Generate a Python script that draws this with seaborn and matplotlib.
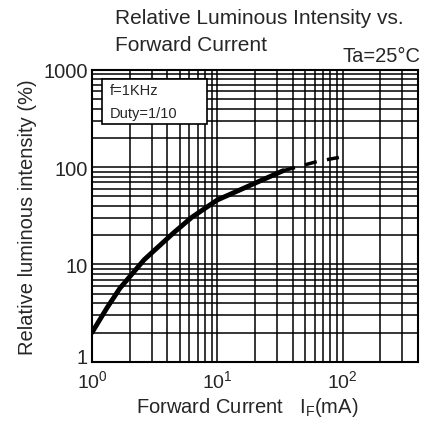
import matplotlib
matplotlib.use("Agg")
import matplotlib.pyplot as plt
from matplotlib.ticker import NullFormatter
from matplotlib.patches import Rectangle
import matplotlib.transforms as mtransforms
import pandas as pd
import seaborn as sns

# measured curve (solid part) and extrapolated part (dashed)
current_solid = [1, 1.32, 1.67, 2.61, 4.45, 6.25, 10, 22.9, 33.6]
intensity_solid = [2.0, 3.6, 5.7, 11.2, 21, 30.5, 46, 74, 92]
current_dash = [33.6, 63.8, 100]
intensity_dash = [92, 115, 128]

x_ticks = [1, 10, 100]
x_ticklabels = [r"$\mathregular{10^0}$", r"$\mathregular{10^1}$", r"$\mathregular{10^2}$"]
y_ticks = [1, 10, 100, 1000]
y_ticklabels = ["1", "10", "100", "1000"]

sns.set_theme(style="white")
plt.rcParams["font.family"] = ["Liberation Sans", "DejaVu Sans"]

fig = plt.figure(figsize=(4.26, 4.35), dpi=100)
ax = fig.add_axes([0.216, 0.166, 0.765, 0.671])

df_solid = pd.DataFrame({"I": current_solid, "L": intensity_solid})
df_dash = pd.DataFrame({"I": current_dash, "L": intensity_dash})

ax.set_xscale("log")
ax.set_yscale("log")

sns.lineplot(data=df_solid, x="I", y="L", ax=ax, color="black", linewidth=3.5)
sns.lineplot(data=df_dash, x="I", y="L", ax=ax, color="black", linewidth=2.5,
             linestyle=(0, (3.5, 3)))

ax.set_xlim(1, 400)
ax.set_ylim(1, 1000)
ax.set_xticks(x_ticks)
ax.set_xticklabels(x_ticklabels, fontsize=14)
ax.set_yticks(y_ticks)
ax.set_yticklabels(y_ticklabels, fontsize=14.5)
ax.minorticks_on()
ax.xaxis.set_minor_formatter(NullFormatter())
ax.yaxis.set_minor_formatter(NullFormatter())
ax.tick_params(which="both", length=0)
ax.tick_params(axis="x", pad=5)
ax.tick_params(axis="y", pad=3)

# the "1" label sits a bit higher in the original
lbl_one = ax.get_yticklabels()[0]
lbl_one.set_transform(lbl_one.get_transform() +
                      mtransforms.ScaledTranslation(0, 6 / 100, fig.dpi_scale_trans))

# dense black grid like a printed log chart
ax.grid(True, which="both", color="black", linewidth=1.1)
ax.set_axisbelow(True)

for s in ax.spines.values():
    s.set_color("black")
    s.set_linewidth(1.5)

ax.set_xlabel(r"Forward Current   $\mathregular{I_F}$(mA)", fontsize=14.5)
ax.xaxis.set_label_coords(0.475, -0.115)
ax.set_ylabel("Relative luminous intensity (%)", fontsize=14.5)
ax.yaxis.set_label_coords(-0.17, 0.5)

# condition box
ax.add_patch(Rectangle((0.031, 0.815), 0.322, 0.154, transform=ax.transAxes,
                       facecolor="white", edgecolor="black", linewidth=1.2, zorder=3))
ax.text(0.055, 0.93, "f=1KHz", transform=ax.transAxes, fontsize=10.5,
        va="center", ha="left", zorder=4)
ax.text(0.055, 0.853, "Duty=1/10", transform=ax.transAxes, fontsize=10.5,
        va="center", ha="left", zorder=4)

fig.text(0.27, 0.958, "Relative Luminous Intensity vs.", fontsize=15, ha="left", va="center")
fig.text(0.27, 0.896, "Forward Current", fontsize=15, ha="left", va="center")
fig.text(0.986, 0.869, "Ta=25°C", fontsize=14.5, ha="right", va="center")

fig.savefig("out.png", dpi=100)
